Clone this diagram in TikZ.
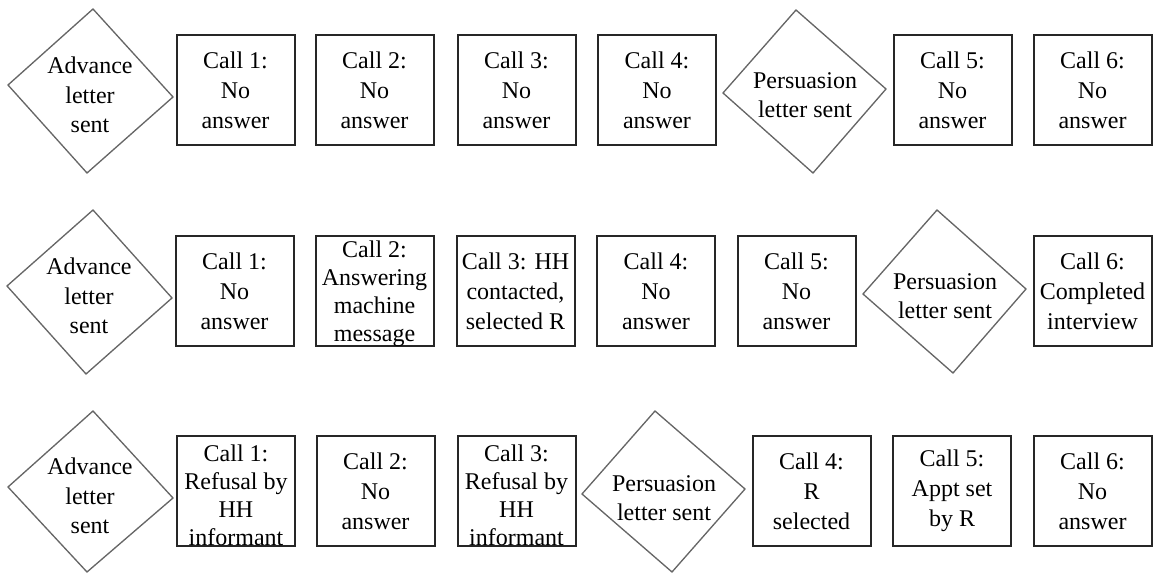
\documentclass[tikz,border=0pt]{standalone}
\usepackage{fontspec}
\setmainfont{Liberation Serif}
\begin{document}
\begin{tikzpicture}[x=0.75pt,y=-0.75pt,
  box/.style={draw=black!85, line width=1.5pt, minimum width=88.5pt, minimum height=83pt, inner sep=0pt, align=center, font=\fontsize{18}{22.5}\selectfont},
  boxf/.style={box, font=\fontsize{18}{21}\selectfont},
  dia/.style={draw=black!60, line width=1pt, line join=miter},
  dtxt/.style={align=center, inner sep=0pt, font=\fontsize{18}{22}\selectfont}]
\useasboundingbox (0,0) rectangle (1154,573);

% ---------- Row 1 ----------
\draw[dia] (8,85) -- (93,9) -- (173,97) -- (87,173) -- cycle;
\node[dtxt] (r1d1) at (90,95) {Advance\\letter\\sent};
\node[box] (r1c1) at (235.5,90) {Call 1:\\No\\answer};
\node[box] (r1c2) at (374.5,90) {Call 2:\\No\\answer};
\node[box] (r1c3) at (516.5,90) {Call 3:\\No\\answer};
\node[box] (r1c4) at (657,90) {Call 4:\\No\\answer};
\draw[dia] (723,93) -- (796,10) -- (886,89) -- (813,173) -- cycle;
\node[dtxt] (r1p) at (805,95) {Persuasion\\letter sent};
\node[box] (r1c5) at (952.5,90) {Call 5:\\No\\answer};
\node[box] (r1c6) at (1092.5,90) {Call 6:\\No\\answer};

% ---------- Row 2 ----------
\draw[dia] (7,286) -- (93,210) -- (172,298) -- (86,374) -- cycle;
\node[dtxt] (r2d1) at (89,296) {Advance\\letter\\sent};
\node[box] (r2c1) at (234.5,291) {Call 1:\\No\\answer};
\node[boxf] (r2c2) at (374.5,291) {};
\node[align=center, inner sep=0pt, font=\fontsize{18}{21}\selectfont] (r2c2t) at (374.5,294) {Call 2:\\Answering\\machine\\message};
\node[box] (r2c3) at (515.5,291) {Call 3: HH\\contacted,\\selected R};
\node[box] (r2c4) at (656,291) {Call 4:\\No\\answer};
\node[box] (r2c5) at (796.5,291) {Call 5:\\No\\answer};
\draw[dia] (863,294) -- (937,210) -- (1026,289) -- (953,373) -- cycle;
\node[dtxt] (r2p) at (945,296) {Persuasion\\letter sent};
\node[box] (r2c6) at (1092.5,291) {Call 6:\\Completed\\interview};

% ---------- Row 3 ----------
\draw[dia] (8,487) -- (93,411) -- (173,498) -- (87,572) -- cycle;
\node[dtxt] (r3d1) at (90,496) {Advance\\letter\\sent};
\node[boxf] (r3c1) at (236,491) {};
\node[align=center, inner sep=0pt, font=\fontsize{18}{21}\selectfont] (r3c1t) at (236,495) {Call 1:\\Refusal by\\HH\\informant};
\node[box] (r3c2) at (375.5,491) {Call 2:\\No\\answer};
\node[boxf] (r3c3) at (516.5,491) {};
\node[align=center, inner sep=0pt, font=\fontsize{18}{21}\selectfont] (r3c3t) at (516.5,495) {Call 3:\\Refusal by\\HH\\informant};
\draw[dia] (582,494) -- (655,411) -- (745,489) -- (672,572) -- cycle;
\node[dtxt] (r3p) at (664,498) {Persuasion\\letter sent};
\node[box] (r3c4) at (811.5,491) {Call 4:\\R\\selected};
\node[box] (r3c5) at (952,491) {Call 5:\\Appt set\\by R};
\node[box] (r3c6) at (1092.5,491) {Call 6:\\No\\answer};
\end{tikzpicture}
\end{document}
